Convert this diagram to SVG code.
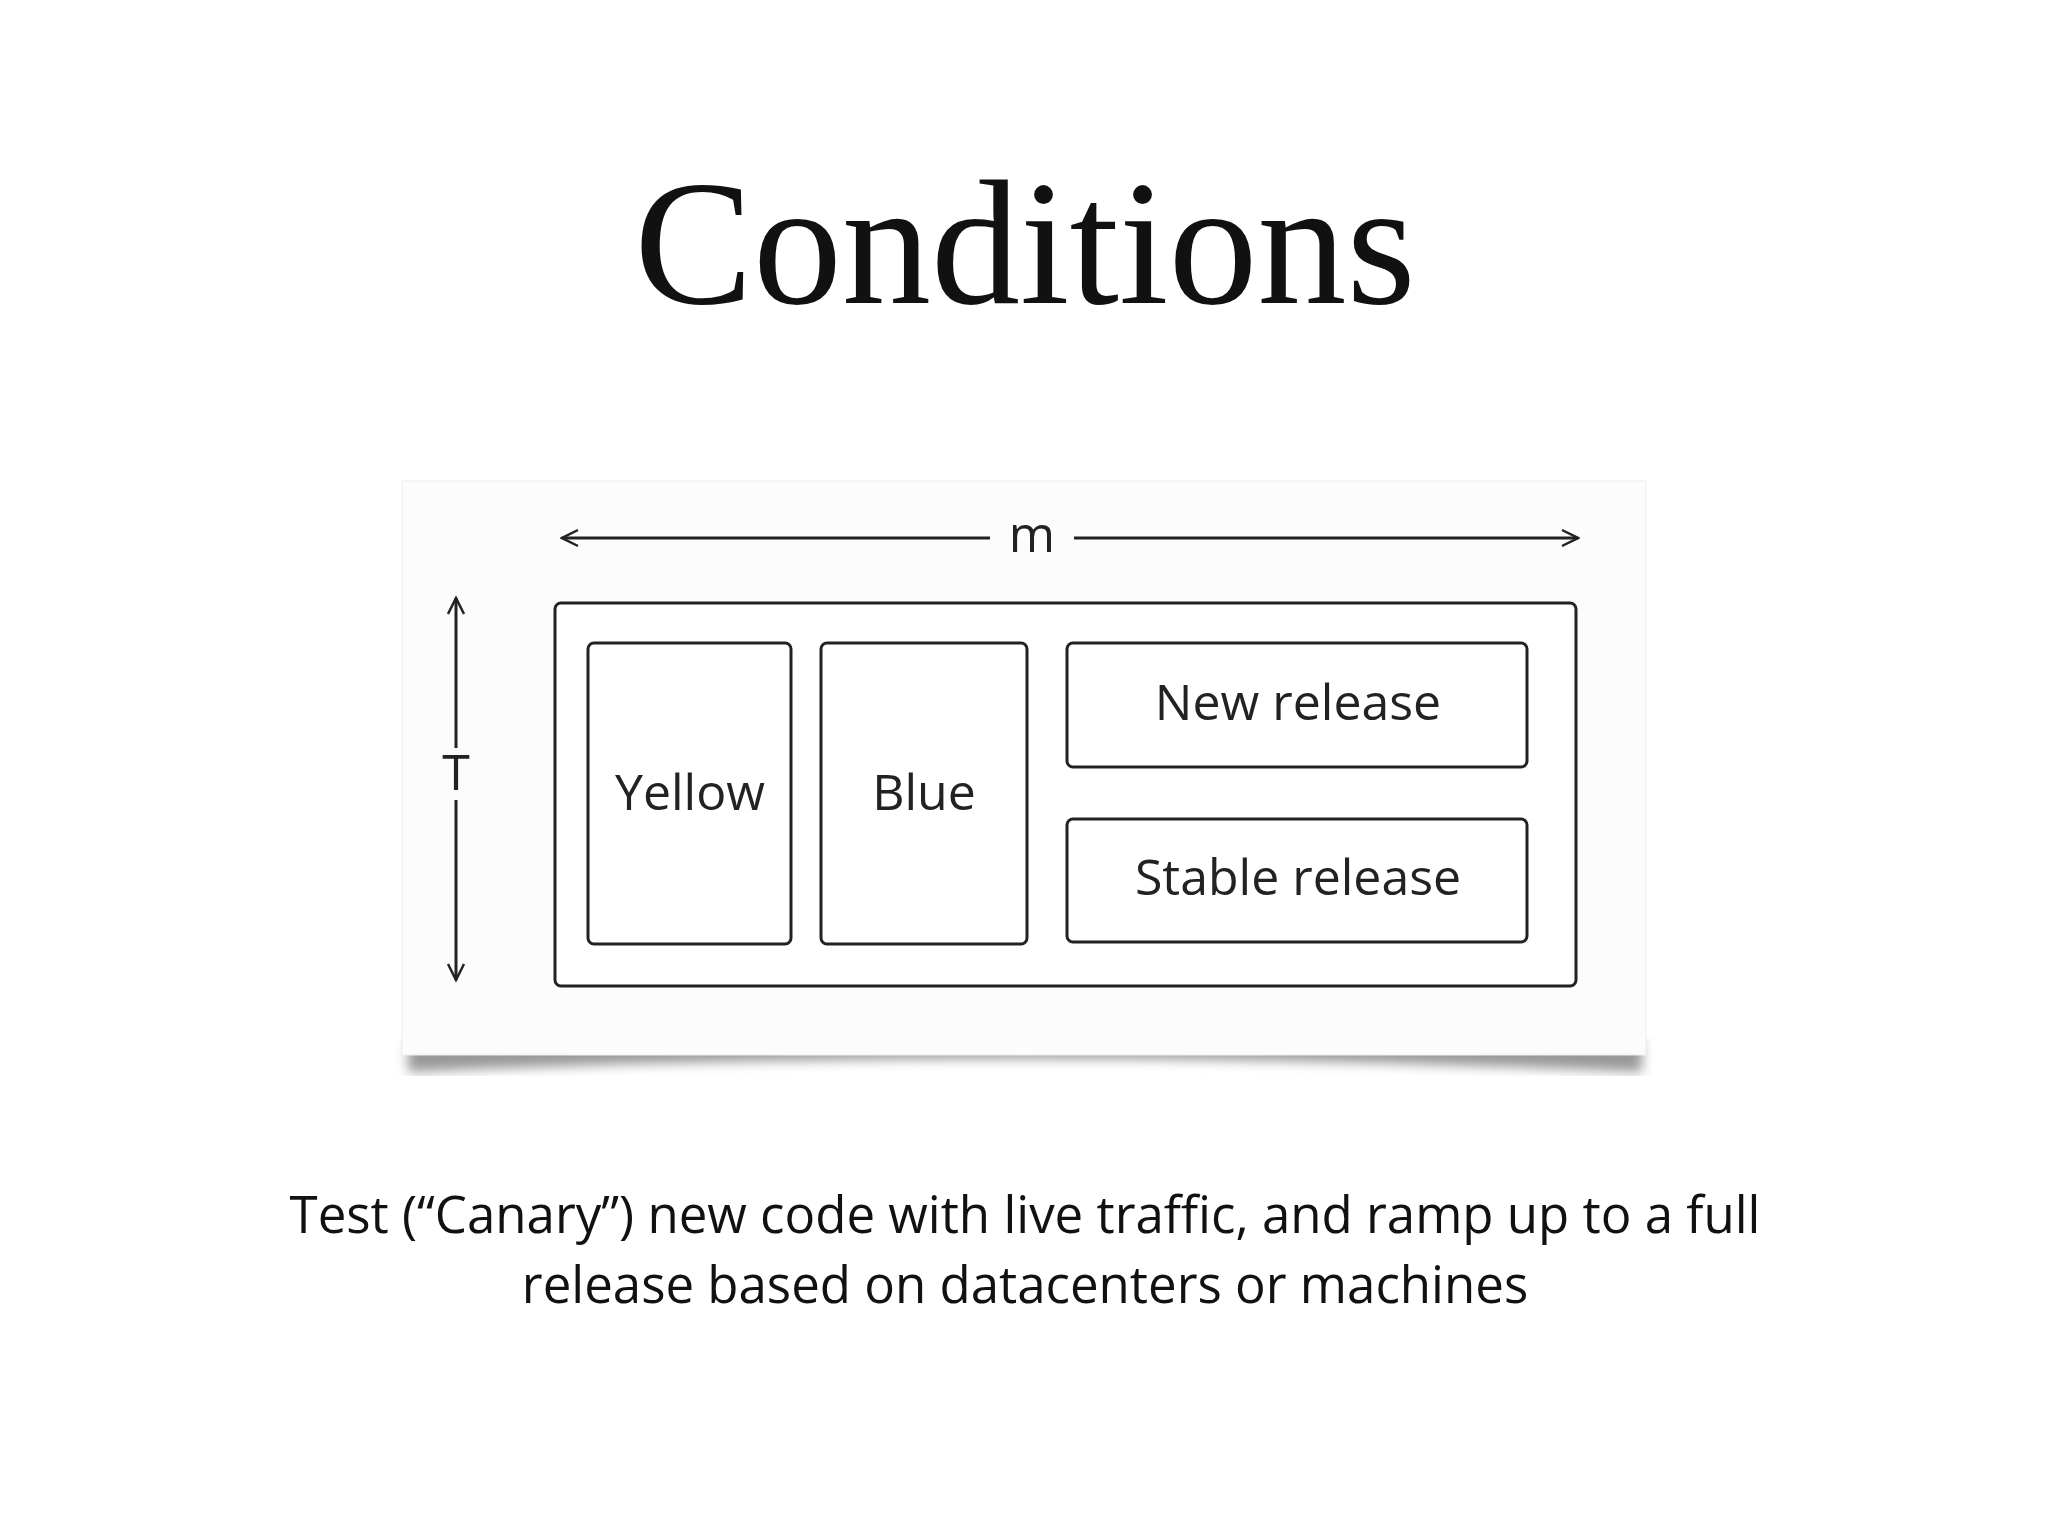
<svg xmlns="http://www.w3.org/2000/svg" width="2048" height="1536" viewBox="0 0 2048 1536">
<defs>
<style>
.box{fill:#fff;stroke:#222;stroke-width:3}
.lbl{font-family:"Open Sans","Noto Sans",sans-serif;font-size:50px;font-weight:500;fill:#222;text-anchor:middle}
.ln{stroke:#222;stroke-width:3;fill:none}
</style>
<marker id="ah" viewBox="0 0 20 20" refX="18" refY="10" markerWidth="20" markerHeight="20" markerUnits="userSpaceOnUse" orient="auto-start-reverse"><path d="M2,2 L18,10 L2,18" fill="none" stroke="#222" stroke-width="2.5"/></marker>
<filter id="sh" x="-5%" y="-5%" width="110%" height="115%"><feGaussianBlur stdDeviation="6"/></filter>
</defs>
<rect width="2048" height="1536" fill="#fff"/>
<text x="1025" y="303" font-family="'Liberation Serif',serif" font-size="178" text-anchor="middle" fill="#111">Conditions</text>
<g id="card">
<path d="M408,1040 Q1025,1040 1642,1040 L1642,1072 Q1025,1045 408,1072 Z" fill="#999" filter="url(#sh)"/>
<rect x="402" y="481" width="1244" height="574" fill="#fcfcfc" stroke="#eee"/>
</g>
<g id="connectors">
<line class="ln" x1="562" y1="538" x2="990" y2="538" marker-start="url(#ah)"/>
<line class="ln" x1="1074" y1="538" x2="1578" y2="538" marker-end="url(#ah)"/>
<line class="ln" x1="456" y1="598" x2="456" y2="748" marker-start="url(#ah)"/>
<line class="ln" x1="456" y1="800" x2="456" y2="980" marker-end="url(#ah)"/>
</g>
<g id="m"><text class="lbl" x="1032" y="552">m</text></g>
<g id="T"><text class="lbl" x="456" y="790">T</text></g>
<g id="outer"><rect class="box" x="555" y="603" width="1021" height="383" rx="6"/></g>
<g id="yellow"><rect class="box" x="588" y="643" width="203" height="301" rx="6"/><text class="lbl" x="690" y="810">Yellow</text></g>
<g id="blue"><rect class="box" x="821" y="643" width="206" height="301" rx="6"/><text class="lbl" x="924" y="810">Blue</text></g>
<g id="new"><rect class="box" x="1067" y="643" width="460" height="124" rx="6"/><text class="lbl" x="1298" y="720">New release</text></g>
<g id="stable"><rect class="box" x="1067" y="819" width="460" height="123" rx="6"/><text class="lbl" x="1298" y="895">Stable release</text></g>
<g id="caption" font-family="'Open Sans','Noto Sans',sans-serif" font-size="51" fill="#111" text-anchor="middle">
<text x="1025" y="1233">Test (“Canary”) new code with live traffic, and ramp up to a full</text>
<text x="1025" y="1303">release based on datacenters or machines</text>
</g>
</svg>
